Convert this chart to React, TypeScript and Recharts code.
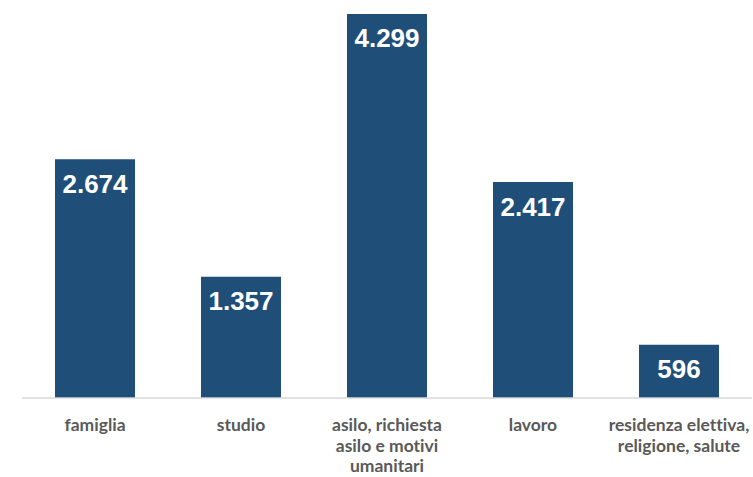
import { BarChart, Bar, XAxis, YAxis, LabelList } from 'recharts';

const categories = [
  'famiglia',
  'studio',
  'asilo, richiesta\nasilo e motivi\numanitari',
  'lavoro',
  'residenza elettiva,\nreligione, salute',
];
const permessi = [2674, 1357, 4299, 2417, 596];

const data = categories.map((name, i) => ({ name, value: permessi[i] }));

const fmt = (v: any) => String(v).replace(/\B(?=(\d{3})+(?!\d))/g, '.');

function CategoryTick(props: any) {
  const { x, y, payload } = props;
  const lines = String(payload.value).split('\n');
  return (
    <g transform={`translate(${x},${y})`}>
      {lines.map((line, i) => (
        <text
          key={i}
          x={0}
          y={0}
          dy={25 + i * 20.5}
          textAnchor="middle"
          fill="#595959"
          fontFamily="Lato, sans-serif"
          fontWeight="bold"
          fontSize={17.5}
          style={{ fontVariantLigatures: 'none' }}
        >
          {line}
        </text>
      ))}
    </g>
  );
}

export default function App() {
  return (
    <div style={{ position: 'absolute', left: 0, top: 0, width: 753, height: 477, background: '#fff' }}>
      <BarChart
        width={753}
        height={477}
        data={data}
        margin={{ top: 14, right: 1, bottom: 0, left: 22 }}
        barCategoryGap="22.6%"
      >
        <XAxis
          dataKey="name"
          axisLine={{ stroke: '#d9d9d9', strokeWidth: 1.5 }}
          tickLine={false}
          interval={0}
          height={79}
          tick={<CategoryTick />}
        />
        <YAxis hide domain={[0, 4299]} />
        <Bar dataKey="value" fill="#1f4e79" isAnimationActive={false}>
          <LabelList
            dataKey="value"
            position="insideTop"
            offset={15}
            formatter={fmt}
            fill="#ffffff"
            style={{ fontFamily: 'Liberation Sans, Arial, sans-serif', fontWeight: 'bold', fontSize: 26 }}
          />
        </Bar>
      </BarChart>
    </div>
  );
}
